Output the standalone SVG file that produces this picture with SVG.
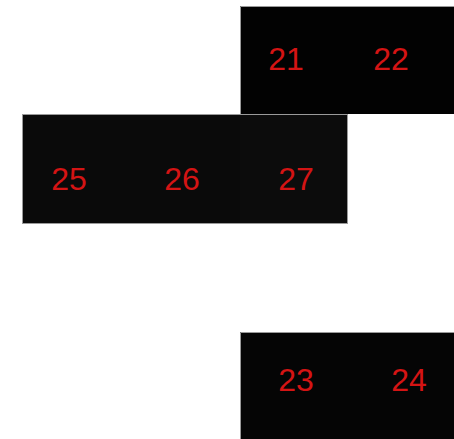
<svg xmlns="http://www.w3.org/2000/svg" width="454" height="439" viewBox="0 0 454 439">
<style>
.cell{stroke:none}
.lbl{font-family:"Liberation Sans",Arial,sans-serif;font-size:32px;fill:#d41414;text-anchor:middle}
.frame{fill:none;stroke:#9a9a9a;stroke-width:1}
</style>
<rect width="454" height="439" fill="#ffffff"/>
<g id="top">
<rect x="240" y="6" width="214" height="108" fill="#020202" class="cell"/>
<path class="frame" d="M240.5 114 V6.5 H454"/>
</g>
<g id="n21"><text class="lbl" x="286" y="70">21</text></g>
<g id="n22"><text class="lbl" x="391" y="70">22</text></g>
<g id="middle">
<rect x="22" y="114" width="326" height="110" fill="#0a0a0a" class="cell"/>
<rect x="240" y="114" width="108" height="110" fill="#0c0c0c" class="cell"/>
<rect class="frame" x="22.5" y="114.5" width="325" height="109"/>
</g>
<g id="n25"><text class="lbl" x="69" y="190">25</text></g>
<g id="n26"><text class="lbl" x="182" y="190">26</text></g>
<g id="n27"><text class="lbl" x="296" y="190">27</text></g>
<g id="bottom">
<rect x="240" y="332" width="214" height="107" fill="#050505" class="cell"/>
<path class="frame" d="M240.5 439 V332.5 H454"/>
</g>
<g id="n23"><text class="lbl" x="296" y="391">23</text></g>
<g id="n24"><text class="lbl" x="409" y="391">24</text></g>
<g id="connectors"></g>
</svg>
